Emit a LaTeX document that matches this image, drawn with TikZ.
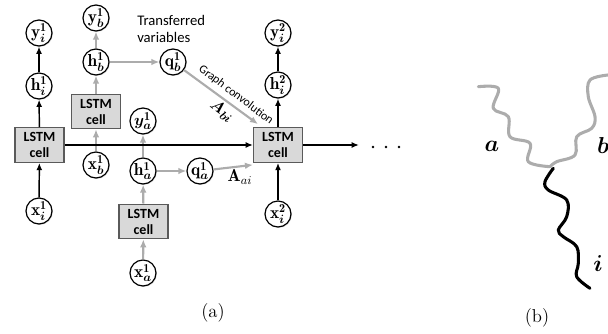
\documentclass[tikz,border=0pt]{standalone}
\usepackage{fontspec}
\usepackage{bm}
\setsansfont{Carlito}
\usetikzlibrary{arrows.meta,shadows}
\definecolor{linegray}{RGB}{172,172,172}
\definecolor{cellfill}{RGB}{217,217,217}
\definecolor{cellline}{RGB}{90,90,90}
\begin{document}
\begin{tikzpicture}[x=0.75pt,y=-0.75pt,
  var/.style={circle, draw, line width=0.9pt, fill=white, minimum size=19.5pt,
    inner sep=0pt, font=\fontsize{13}{15}\selectfont,
    drop shadow={shadow xshift=0.7pt, shadow yshift=-0.7pt, opacity=0.25}},
  lstm/.style={draw=cellline, fill=cellfill, line width=0.8pt,
    minimum width=36.75pt, minimum height=26pt, inner sep=1pt, align=center,
    font=\sffamily\bfseries\fontsize{10.5}{12}\selectfont},
  blk/.style={-{Latex[length=5.5pt,width=4.5pt]}, line width=1.1pt},
  gry/.style={-{Latex[length=6pt,width=5pt]}, line width=1.6pt, draw=linegray},
  wave/.style={line width=2.3pt, line cap=round, line join=round}]
\useasboundingbox (0,0) rectangle (608,333);

% ---- panel (a): target series i
\node[lstm] (c1) at (39.5,145) {LSTM\\cell};
\node[var] (xi1) at (39,211) {$\mathbf{x}_{\bm{i}}^{\mathbf{1}}$};
\node[var] (hi1) at (39,86) {$\mathbf{h}_{\bm{i}}^{\mathbf{1}}$};
\node[var] (yi1) at (39,33) {$\mathbf{y}_{\bm{i}}^{\mathbf{1}}$};

% ---- series b
\node[lstm] (cb) at (96,111.5) {LSTM\\cell};
\node[var] (xb1) at (96,165) {$\mathbf{x}_{\bm{b}}^{\mathbf{1}}$};
\node[var] (hb1) at (96,62) {$\mathbf{h}_{\bm{b}}^{\mathbf{1}}$};
\node[var] (yb1) at (96,18) {$\mathbf{y}_{\bm{b}}^{\mathbf{1}}$};
\node[var] (qb1) at (173,62) {$\mathbf{q}_{\bm{b}}^{\mathbf{1}}$};

% ---- series a
\node[lstm] (ca) at (143.5,221.5) {LSTM\\cell};
\node[var] (xa1) at (143,273) {$\mathbf{x}_{\bm{a}}^{\mathbf{1}}$};
\node[var] (ha1) at (143,171) {$\mathbf{h}_{\bm{a}}^{\mathbf{1}}$};
\node[var] (ya1) at (143,121) {$\bm{y}_{\bm{a}}^{\mathbf{1}}$};
\node[var] (qa1) at (200,171) {$\mathbf{q}_{\bm{a}}^{\mathbf{1}}$};

% ---- second step of series i
\node[lstm] (c3) at (278,145) {LSTM\\cell};
\node[var] (xi2) at (278,214) {$\mathbf{x}_{\bm{i}}^{\mathbf{2}}$};
\node[var] (hi2) at (278,85) {$\mathbf{h}_{\bm{i}}^{\mathbf{2}}$};
\node[var] (yi2) at (278,33) {$\mathbf{y}_{\bm{i}}^{\mathbf{2}}$};
\coordinate (out) at (359,145);

\node[font=\sffamily\fontsize{11}{12.8}\selectfont, align=left, anchor=west,
  inner sep=0pt] (tv) at (137,29) {Transferred\\variables};

% gray connectors of the neighbour series
\draw[gry] (xb1) -- (cb);
\draw[gry] (cb) -- (hb1);
\draw[gry] (hb1) -- (yb1);
\draw[gry] (hb1) -- (qb1);
\draw[gry] (xa1) -- (ca);
\draw[gry] (ca) -- (ha1);
\draw[gry] (ha1) -- (ya1);
\draw[gry] (ha1) -- (qa1);
\draw[gry] (qb1) -- ([shift={(5,-3)}]c3.north west);
\draw[gry] (qa1) -- ([shift={(0,2)}]c3.south west);

% black connectors of series i
\draw[blk] (xi1) -- (c1);
\draw[blk] (c1) -- (hi1);
\draw[blk] (hi1) -- (yi1);
\draw[blk] (c1.east) -- (c3.west);
\draw[blk] (xi2) -- (c3);
\draw[blk] (c3) -- (hi2);
\draw[blk] (hi2) -- (yi2);
\draw[blk] (c3.east) -- (out);
\foreach \dx/\nm in {373/d1,386/d2,399/d3}
  \fill (\dx,147) coordinate (\nm) circle (1.4);

% edge labels
\node[font=\sffamily\fontsize{9}{10}\selectfont, rotate=-37, inner sep=0pt]
  (gc) at (236,95) {Graph convolution};
\node[font=\fontsize{13}{15}\selectfont, rotate=-37, inner sep=0pt] (abi) at (222,111) {$\bm{A}_{\bm{bi}}$};
\node[font=\fontsize{13}{15}\selectfont, inner sep=0pt] (aai) at (240,177) {$\mathbf{A}_{ai}$};

\node[font=\fontsize{14}{16}\selectfont] (la) at (213,313) {(a)};

% ---- panel (b): coupled random paths
\draw[wave, draw=linegray] plot[smooth, tension=0.6] coordinates {
  (478.3,86.7) (498.3,88.3) (493.3,108.3) (508.3,116.7) (510,136.7)
  (530,143.3) (528.3,161.7) (550,166.7)};
\draw[wave, draw=linegray] plot[smooth, tension=0.6] coordinates {
  (608,75) (590,80) (588.3,96.7) (595,116.7) (591.7,128.3) (576.7,136.7)
  (575,155) (556.7,161.7) (550,166.7)};
\draw[wave] plot[smooth, tension=0.6] coordinates {
  (553.3,168.3) (545,181.7) (548.3,190) (566.7,200) (566.7,216.7)
  (558.3,230) (563.3,236.7) (576.7,246.7) (578.3,263.3) (576.7,276.7)
  (590,288.3)};
\node[font=\fontsize{17}{19}\selectfont] (pa) at (492,146) {$\bm{a}$};
\node[font=\fontsize{17}{19}\selectfont] (pb) at (603,145) {$\bm{b}$};
\node[font=\fontsize{17}{19}\selectfont] (pi) at (598,264) {$\bm{i}$};
\node[font=\fontsize{14}{16}\selectfont] (lb) at (537,318) {(b)};
\end{tikzpicture}
\end{document}
